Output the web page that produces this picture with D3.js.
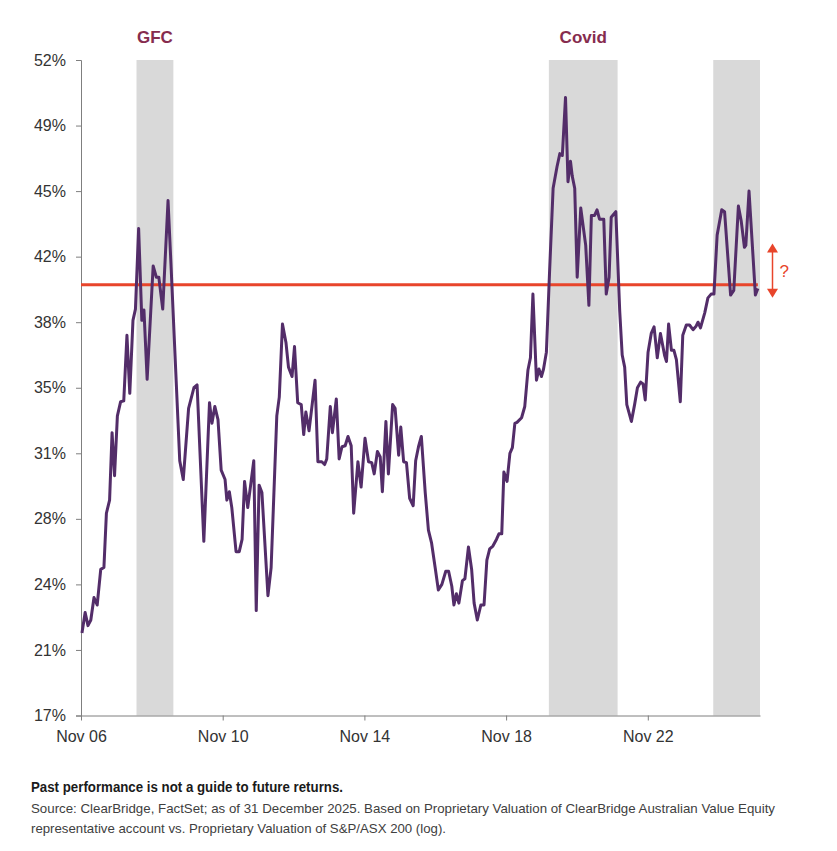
<!DOCTYPE html>
<html>
<head>
<meta charset="utf-8">
<script src="https://cdn.jsdelivr.net/npm/d3@7/dist/d3.min.js"></script>
<style>
  html, body { margin: 0; padding: 0; background: #ffffff; }
  svg { display: block; }
</style>
</head>
<body>
<svg id="chart" width="837" height="851"></svg>
<script>
// ---- Data ----
// Time as decimal years, values in %
const years = [
  2006.86, 2006.95, 2007.03, 2007.11, 2007.20, 2007.29, 2007.39, 2007.48, 2007.55, 2007.64,
  2007.71, 2007.78, 2007.86, 2007.95, 2008.04, 2008.13, 2008.21, 2008.30, 2008.37, 2008.46,
  2008.55, 2008.61, 2008.70, 2008.87, 2008.96, 2009.03, 2009.14, 2009.29, 2009.38, 2009.62,
  2009.72, 2009.87, 2010.02, 2010.11, 2010.30, 2010.46, 2010.53, 2010.61, 2010.70, 2010.79,
  2010.90, 2010.95, 2011.02, 2011.09, 2011.21, 2011.30, 2011.38, 2011.45, 2011.54, 2011.71,
  2011.78, 2011.86, 2011.94, 2012.11, 2012.20, 2012.36, 2012.43, 2012.52, 2012.62, 2012.69,
  2012.79, 2012.86, 2012.95, 2013.05, 2013.12, 2013.18, 2013.27, 2013.44, 2013.52, 2013.63,
  2013.71, 2013.77, 2013.87, 2013.93, 2014.04, 2014.12, 2014.20, 2014.29, 2014.37, 2014.46,
  2014.53, 2014.65, 2014.74, 2014.85, 2014.95, 2015.04, 2015.11, 2015.20, 2015.28, 2015.34,
  2015.44, 2015.51, 2015.63, 2015.70, 2015.80, 2015.86, 2015.94, 2016.02, 2016.11, 2016.21,
  2016.28, 2016.36, 2016.44, 2016.55, 2016.64, 2016.73, 2016.83, 2016.92, 2017.02, 2017.13,
  2017.21, 2017.30, 2017.36, 2017.43, 2017.50, 2017.60, 2017.67, 2017.77, 2017.86, 2017.93,
  2018.02, 2018.12, 2018.21, 2018.29, 2018.37, 2018.46, 2018.56, 2018.63, 2018.71, 2018.77,
  2018.86, 2018.94, 2019.01, 2019.08, 2019.14, 2019.27, 2019.36, 2019.45, 2019.52, 2019.59,
  2019.69, 2019.76, 2019.83, 2019.89, 2019.97, 2020.06, 2020.16, 2020.27, 2020.35, 2020.42,
  2020.51, 2020.58, 2020.65, 2020.70, 2020.77, 2020.84, 2020.94, 2021.08, 2021.17, 2021.24,
  2021.33, 2021.40, 2021.47, 2021.59, 2021.66, 2021.74, 2021.80, 2021.93, 2022.04, 2022.11,
  2022.18, 2022.24, 2022.37, 2022.46, 2022.54, 2022.63, 2022.70, 2022.76, 2022.84, 2022.93,
  2023.01, 2023.10, 2023.19, 2023.31, 2023.36, 2023.42, 2023.50, 2023.57, 2023.64, 2023.75,
  2023.82, 2023.92, 2024.01, 2024.11, 2024.20, 2024.25, 2024.32, 2024.44, 2024.53, 2024.62,
  2024.70, 2024.79, 2024.92, 2025.00, 2025.17, 2025.26, 2025.39, 2025.47, 2025.56, 2025.60,
  2025.69, 2025.87, 2025.94
];
const values = [
  21.4, 22.5, 21.8, 22.1, 23.3, 22.9, 24.8, 24.9, 27.8, 28.5,
  32.1, 29.8, 33.0, 33.75, 33.8, 37.3, 34.2, 38.1, 38.7, 43.0,
  38.1, 38.65, 34.95, 41.0, 40.4, 40.4, 38.7, 44.5, 40.8, 30.6,
  29.6, 33.4, 34.5, 34.65, 26.3, 33.7, 32.6, 33.5, 32.8, 30.1,
  29.6, 28.5, 28.95, 28.1, 25.75, 25.75, 26.4, 29.5, 28.1, 30.6,
  22.6, 29.3, 28.9, 23.4, 24.9, 33.0, 34.0, 37.9, 36.9, 35.6,
  35.1, 36.7, 33.7, 33.6, 32.0, 33.2, 32.2, 34.9, 30.55, 30.55,
  30.4, 30.7, 33.5, 32.1, 33.9, 30.7, 31.35, 31.4, 31.9, 31.4,
  27.8, 30.55, 29.2, 31.8, 30.55, 30.5, 29.9, 31.1, 30.8, 28.95,
  32.7, 29.9, 33.6, 33.4, 30.9, 32.4, 30.55, 30.5, 28.6, 28.2,
  30.6, 31.35, 31.9, 28.9, 26.9, 26.2, 24.9, 23.7, 24.0, 24.7,
  24.7, 23.9, 22.9, 23.5, 23.0, 24.2, 24.3, 26.0, 24.8, 23.0,
  22.1, 22.9, 22.9, 25.3, 25.9, 26.05, 26.4, 26.7, 26.7, 30.0,
  29.5, 31.0, 31.3, 32.6, 32.65, 32.9, 33.5, 35.45, 36.1, 39.5,
  34.9, 35.5, 35.1, 35.5, 36.4, 40.7, 45.15, 46.3, 47.0, 46.9,
  50.0, 45.5, 46.6, 45.8, 45.15, 40.4, 44.1, 42.1, 38.9, 43.7,
  43.7, 44.0, 43.5, 43.5, 39.5, 40.4, 43.6, 43.9, 38.6, 36.25,
  35.6, 33.6, 32.7, 33.6, 34.5, 34.8, 34.7, 33.85, 36.4, 37.4,
  37.75, 36.1, 37.4, 36.2, 35.9, 37.9, 36.5, 36.5, 36.0, 33.75,
  37.3, 37.85, 37.85, 37.6, 37.8, 38.0, 37.7, 38.5, 39.3, 39.5,
  39.5, 42.65, 44.0, 43.9, 39.45, 39.7, 44.2, 43.4, 42.0, 42.1,
  45.0, 39.45, 39.8
];

const yTickValues = [17, 20.5, 24, 27.5, 31, 34.5, 38, 41.5, 45, 48.5, 52];
const yTickLabels = ["17%", "21%", "24%", "28%", "31%", "35%", "38%", "42%", "45%", "49%", "52%"];
const xTickYears = [2006.833, 2010.833, 2014.833, 2018.833, 2022.833];
const xTickLabels = ["Nov 06", "Nov 10", "Nov 14", "Nov 18", "Nov 22"];

const bandNames = ["GFC", "Covid", ""];
const bandStarts = [2008.40, 2020.04, 2024.68];
const bandEnds = [2009.44, 2021.98, 2026.0];

const averageLevel = 40.0;
const arrowRange = [39.3, 42.2];

const footerBold = "Past performance is not a guide to future returns.";
const footerLines = [
  "Source: ClearBridge, FactSet; as of 31 December 2025. Based on Proprietary Valuation of ClearBridge Australian Value Equity",
  "representative account vs. Proprietary Valuation of S&P/ASX 200 (log)."
];

// ---- Layout ----
const margin = { left: 81, right: 77, top: 60, bottom: 135 };
const W = 837, H = 851;
const svg = d3.select("#chart");
svg.append("rect").attr("width", W).attr("height", H).attr("fill", "#ffffff");

const x = d3.scaleLinear().domain([2006.833, 2026.0]).range([margin.left, W - margin.right]);
const y = d3.scaleLinear().domain([17, 52]).range([H - margin.bottom - 0.5, margin.top]);

const font = "'Liberation Sans', Arial, Helvetica, sans-serif";
const narrow = "'Liberation Sans Narrow', 'Arial Narrow', 'Liberation Sans', Arial, sans-serif";

// Shaded bands
const bands = bandNames.map((n, i) => ({ name: n, start: bandStarts[i], end: bandEnds[i] }));
svg.append("g").selectAll("rect").data(bands).join("rect")
  .attr("x", d => x(d.start))
  .attr("width", d => x(d.end) - x(d.start))
  .attr("y", y(52))
  .attr("height", y(17) - y(52))
  .attr("fill", "#d9d9d9");

svg.append("g").selectAll("text").data(bands.filter(d => d.name)).join("text")
  .attr("x", d => (x(d.start) + x(d.end)) / 2)
  .attr("y", 43)
  .attr("text-anchor", "middle")
  .attr("font-family", font)
  .attr("font-weight", "bold")
  .attr("font-size", 17)
  .attr("fill", "#862c4e")
  .text(d => d.name);

// Axes
const yAxis = d3.axisLeft(y).tickValues(yTickValues)
  .tickFormat((d, i) => yTickLabels[i]).tickSize(5).tickPadding(10);
const gy = svg.append("g").attr("transform", `translate(${margin.left},0)`).call(yAxis);
gy.select(".domain").attr("stroke", "#7f7f7f");
gy.selectAll(".tick line").attr("stroke", "#7f7f7f");
gy.selectAll(".tick text").attr("font-family", font).attr("font-size", 16).attr("fill", "#333333");

const xAxis = d3.axisBottom(x).tickValues(xTickYears)
  .tickFormat((d, i) => xTickLabels[i]).tickSize(5).tickSizeOuter(0).tickPadding(10);
const gx = svg.append("g").attr("transform", `translate(0,${y(17)})`).call(xAxis);
gx.select(".domain").attr("stroke", "#7f7f7f");
gx.selectAll(".tick line").attr("stroke", "#7f7f7f");
gx.selectAll(".tick text").attr("font-family", font).attr("font-size", 16).attr("fill", "#333333");

// Average line
svg.append("line")
  .attr("x1", x(2006.833)).attr("x2", x(years[years.length - 1]))
  .attr("y1", y(averageLevel)).attr("y2", y(averageLevel))
  .attr("stroke", "#e8452b").attr("stroke-width", 3);

// Series line
const series = years.map((t, i) => ({ t, v: values[i] }));
const line = d3.line().x(d => x(d.t)).y(d => y(d.v));
svg.append("path").datum(series)
  .attr("d", line)
  .attr("fill", "none")
  .attr("stroke", "#532d69")
  .attr("stroke-width", 3)
  .attr("stroke-linejoin", "round");

// Arrow annotation
const ax = x(2026.0) + 12.5;
const yTop = y(arrowRange[1]), yBot = y(arrowRange[0]);
const arrowColor = "#e8452b";
svg.append("line").attr("x1", ax).attr("x2", ax).attr("y1", yTop + 6).attr("y2", yBot - 6)
  .attr("stroke", arrowColor).attr("stroke-width", 1.5);
svg.append("path").attr("d", `M${ax},${yTop} L${ax - 5.5},${yTop + 9} L${ax + 5.5},${yTop + 9} Z`).attr("fill", arrowColor);
svg.append("path").attr("d", `M${ax},${yBot} L${ax - 5.5},${yBot - 9} L${ax + 5.5},${yBot - 9} Z`).attr("fill", arrowColor);
svg.append("text").attr("x", ax + 7).attr("y", (yTop + yBot) / 2 + 6)
  .attr("font-family", font).attr("font-size", 17).attr("fill", arrowColor).text("?");

// Footer
svg.append("text").attr("x", 31).attr("y", 792)
  .attr("font-family", narrow).attr("font-weight", "bold").attr("font-size", 14)
  .attr("fill", "#1a1a1a")
  .attr("textLength", 312).attr("lengthAdjust", "spacingAndGlyphs")
  .text(footerBold);
const footerWidths = [744, 415];
footerLines.forEach((s, i) => {
  svg.append("text").attr("x", 31).attr("y", 813 + i * 20)
    .attr("font-family", narrow).attr("font-size", 13.5)
    .attr("fill", "#404040")
    .attr("textLength", footerWidths[i]).attr("lengthAdjust", "spacingAndGlyphs")
    .text(s);
});
</script>
</body>
</html>
